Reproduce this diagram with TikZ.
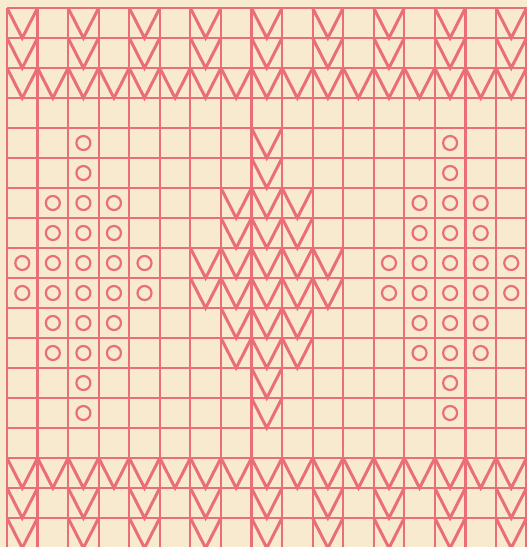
\documentclass[tikz,border=0pt]{standalone}
\definecolor{paper}{RGB}{248,234,206}
\definecolor{ink}{RGB}{234,110,120}
\newcommand{\cw}{30.56}
\newcommand{\KV}[2]{\draw[vst] ({7+\cw*(#1)},{8+30*(#2)}) -- ({7+\cw*(#1)+\cw/2},{8+30*(#2)+30}) -- ({7+\cw*((#1)+1)},{8+30*(#2)});}
\newcommand{\KO}[2]{\draw[ost] ({7+\cw*(#1)+\cw/2},{8+30*(#2)+15}) circle[radius=7pt];}
\begin{document}
\begin{tikzpicture}[x=1pt,y=-1pt,
  gridline/.style={ink,line width=2.2pt},
  vst/.style={ink,line width=3pt,line join=miter},
  ost/.style={ink,line width=2.2pt}]
\useasboundingbox (0,0) rectangle (527,547);
\fill[paper] (0,0) rectangle (527,547);
\begin{scope}
\clip (0,0) rectangle (527,547);
\foreach \k in {0,...,17} \draw[gridline] ({7+\cw*\k},8) -- ({7+\cw*\k},549);
\foreach \j in {0,...,18} \draw[gridline] (7,{8+30*\j}) -- ({7+\cw*17},{8+30*\j});
% top and bottom borders
\foreach \c in {0,2,...,16} {\KV{\c}{0}\KV{\c}{1}\KV{\c}{16}\KV{\c}{17}}
\foreach \c in {0,...,16} {\KV{\c}{2}\KV{\c}{15}}
% motifs
\foreach \r/\w in {4/0,5/0,6/1,7/1,8/2,9/2,10/1,11/1,12/0,13/0} {
  \foreach \d in {-\w,...,\w} {
    \KO{2+\d}{\r}
    \KV{8+\d}{\r}
    \KO{14+\d}{\r}
  }
}
\end{scope}
\end{tikzpicture}
\end{document}
